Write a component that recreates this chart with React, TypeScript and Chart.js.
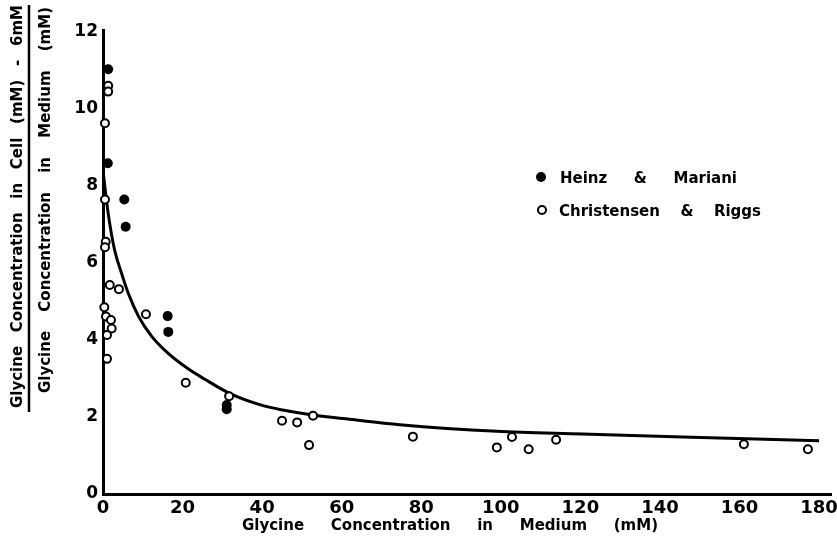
import React, { useEffect, useRef } from 'react';
import { Chart, registerables } from 'chart.js';

Chart.register(...registerables);

// ---- data ----
const heinzX = [1.3, 1.2, 5.35, 5.7, 16.25, 16.4, 31.1, 31.1];
const heinzY = [11.03, 8.59, 7.65, 6.94, 4.62, 4.21, 2.31, 2.2];

const christensenX = [
  1.3, 1.3, 0.5, 0.5, 0.68, 0.5, 1.7, 4.0, 0.33, 0.75, 2.0, 2.18, 1.0, 1.0,
  10.8, 20.8, 31.7, 45, 48.8, 52.8, 51.8, 77.9, 99, 102.8, 107, 113.9, 161.1, 177.2,
];
const christensenY = [
  10.6, 10.45, 9.63, 7.65, 6.55, 6.41, 5.43, 5.32, 4.85, 4.61, 4.52, 4.3, 4.13, 3.51,
  4.67, 2.89, 2.54, 1.9, 1.86, 2.03, 1.27, 1.49, 1.21, 1.48, 1.16, 1.41, 1.29, 1.16,
];

const curveX = [0, 0.9, 1.8, 3.0, 4.7, 6.4, 8.9, 12.2, 16.4, 21.4, 25.6, 31.7, 39.4, 45.2, 52.8, 62, 74.6, 99, 120.6, 145.7, 180];
const curveY = [8.4, 7.6, 6.95, 6.3, 5.72, 5.2, 4.62, 4.1, 3.65, 3.25, 2.98, 2.62, 2.32, 2.18, 2.05, 1.94, 1.8, 1.63, 1.56, 1.48, 1.38];

const xTicks = [0, 20, 40, 60, 80, 100, 120, 140, 160, 180];
const yTicks = [0, 2, 4, 6, 8, 10, 12];

const seriesLabels = ['Heinz & Mariani', 'Christensen & Riggs'];
const xTitle = 'Glycine Concentration in Medium (mM)';
const yTitleTop = 'Glycine Concentration in Cell (mM) - 6mM';
const yTitleBottom = 'Glycine Concentration in Medium (mM)';

const FONT = '"DejaVu Sans", sans-serif';

function drawJustified(ctx: CanvasRenderingContext2D, text: string, x0: number, y: number, width: number) {
  const words = text.split(' ');
  const widths = words.map((w) => ctx.measureText(w).width);
  const total = widths.reduce((a, b) => a + b, 0);
  const gap = words.length > 1 ? (width - total) / (words.length - 1) : 0;
  let x = x0;
  words.forEach((w, i) => {
    ctx.fillText(w, x, y);
    x += widths[i] + gap;
  });
}

const annotPlugin = {
  id: 'annot',
  afterDraw(chart: any) {
    const ctx: CanvasRenderingContext2D = chart.ctx;
    ctx.save();
    ctx.fillStyle = '#000';
    ctx.strokeStyle = '#000';
    ctx.font = `bold 15px ${FONT}`;
    ctx.textAlign = 'left';
    ctx.textBaseline = 'alphabetic';

    // y title (two lines with a rule between)
    ctx.save();
    ctx.translate(22, 408);
    ctx.rotate(-Math.PI / 2);
    drawJustified(ctx, yTitleTop, 0, 0, 403);
    ctx.restore();

    ctx.save();
    ctx.translate(50, 393);
    ctx.rotate(-Math.PI / 2);
    drawJustified(ctx, yTitleBottom, 0, 0, 386);
    ctx.restore();

    ctx.lineWidth = 2.5;
    ctx.beginPath();
    ctx.moveTo(29, 5);
    ctx.lineTo(29, 412);
    ctx.stroke();

    // x title
    drawJustified(ctx, xTitle, 242, 530, 416);

    // legend
    ctx.beginPath();
    ctx.arc(541, 177, 5, 0, Math.PI * 2);
    ctx.fill();
    drawJustified(ctx, seriesLabels[0], 560, 182.5, 177);

    ctx.lineWidth = 2;
    ctx.fillStyle = '#fff';
    ctx.beginPath();
    ctx.arc(542, 210, 4, 0, Math.PI * 2);
    ctx.fill();
    ctx.stroke();
    ctx.fillStyle = '#000';
    drawJustified(ctx, seriesLabels[1], 559, 215.5, 202);

    ctx.restore();
  },
};

export default function App() {
  const canvasRef = useRef<HTMLCanvasElement | null>(null);

  useEffect(() => {
    const canvas = canvasRef.current;
    if (!canvas) return;
    const chart = new Chart(canvas, {
      type: 'scatter',
      data: {
        datasets: [
          {
            label: seriesLabels[0],
            data: heinzX.map((x, i) => ({ x, y: heinzY[i] })),
            pointStyle: 'circle',
            pointRadius: 5,
            pointBackgroundColor: '#000',
            pointBorderColor: '#000',
            pointBorderWidth: 0,
            clip: false,
          } as any,
          {
            label: seriesLabels[1],
            data: christensenX.map((x, i) => ({ x, y: christensenY[i] })),
            pointStyle: 'circle',
            pointRadius: 4,
            pointBackgroundColor: '#fff',
            pointBorderColor: '#000',
            pointBorderWidth: 2,
            clip: false,
          } as any,
          {
            label: 'curve',
            data: curveX.map((x, i) => ({ x, y: curveY[i] })),
            showLine: true,
            borderColor: '#000',
            borderWidth: 3,
            pointRadius: 0,
            tension: 0.4,
            cubicInterpolationMode: 'monotone',
            fill: false,
          } as any,
        ],
      },
      options: {
        responsive: false,
        animation: false,
        events: [],
        layout: { padding: { top: 30, right: 6, left: 0, bottom: 0 } },
        plugins: {
          legend: { display: false },
          tooltip: { enabled: false },
          title: { display: false },
        },
        scales: {
          x: {
            type: 'linear',
            min: 0,
            max: 183,
            grid: { display: false, drawTicks: false },
            border: { display: true, color: '#000', width: 3 },
            ticks: {
              color: '#000',
              font: { family: FONT, weight: 'bold', size: 18 },
              padding: 4,
              maxRotation: 0,
              autoSkip: false,
            },
            afterBuildTicks: (s: any) => {
              s.ticks = xTicks.map((v) => ({ value: v }));
            },
            afterFit: (s: any) => {
              s.height = 47;
              s.paddingLeft = 0;
              s.paddingRight = 0;
            },
          },
          y: {
            type: 'linear',
            min: 0,
            max: 12.05,
            grid: { display: false, drawTicks: false },
            border: { display: true, color: '#000', width: 3 },
            ticks: {
              color: '#000',
              font: { family: FONT, weight: 'bold', size: 17 },
              padding: 5,
              autoSkip: false,
            },
            afterBuildTicks: (s: any) => {
              s.ticks = yTicks.map((v) => ({ value: v }));
            },
            afterFit: (s: any) => {
              s.width = 103;
              s.paddingTop = 0;
              s.paddingBottom = 0;
            },
          },
        },
      } as any,
      plugins: [annotPlugin],
    });
    return () => chart.destroy();
  }, []);

  return (
    <div style={{ position: 'absolute', left: 0, top: 0, width: 837, height: 541, background: '#fff' }}>
      <canvas ref={canvasRef} width={837} height={541} style={{ display: 'block' }} />
    </div>
  );
}
